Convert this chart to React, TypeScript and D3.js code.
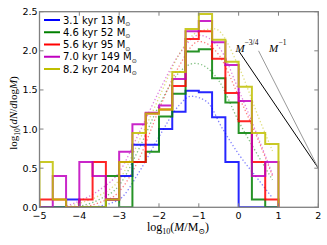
import React from "react";
import * as d3 from "d3";

// bin edges in log10(M/Msun), width 1/3 dex
const binEdges = [-5, -4.667, -4.333, -4, -3.667, -3.333, -3, -2.667, -2.333, -2, -1.667, -1.333, -1, -0.667, -0.333, 0, 0.333, 0.667, 1];

// log10(dN/dlogM) per bin, one array per snapshot
const histBlue = [0, 0, 0.1, 0, 0, 0.1, 0.4, 0.8, 0.8, 1.0, 1.22, 1.49, 1.47, 1.15, 0.58, 0, 0, 0];
const histGreen = [0, 0, 0, 0, 0, 0.4, 0, 0.58, 0.71, 1.16, 1.45, 1.99, 2.02, 1.65, 1.34, 0.95, 0.1, 0];
const histRed = [0.1, 0.1, 0, 0.1, 0.58, 0.1, 0.58, 0.58, 1.2, 1.25, 1.55, 2.15, 2.25, 1.9, 1.46, 1.1, 0.58, 0.1];
const histMagenta = [0, 0.4, 0, 0.58, 0.4, 0.1, 0.71, 1.06, 1.21, 1.3, 1.64, 2.25, 2.38, 2.11, 1.82, 1.36, 0.4, 0.58];
const histYellow = [0.58, 0.1, 0, 0, 0, 0.1, 0.58, 0.95, 1.2, 1.25, 1.73, 2.28, 2.47, 2.14, 1.86, 1.54, 0.95, 0.81];

// dotted model curves: [logM, value]
const fitBlue = [[-3.7, 0], [-3.0, 0.1], [-2.5, 0.45], [-2.0, 0.9], [-1.5, 1.3], [-1.2, 1.42], [-0.8, 1.35], [-0.4, 1.0], [0, 0.68], [0.5, 0.35], [0.85, 0.12]];
const fitGreen = [[-4.1, 0], [-3.5, 0.1], [-3.0, 0.28], [-2.5, 0.75], [-2.0, 1.3], [-1.5, 1.72], [-1.1, 1.84], [-0.5, 1.62], [0, 1.1], [0.5, 0.65], [0.85, 0.35]];
const fitRed = [[-3.9, 0], [-3.5, 0.06], [-3.0, 0.2], [-2.5, 0.62], [-2.0, 1.25], [-1.5, 1.8], [-1.0, 2.12], [-0.5, 1.95], [0, 1.42], [0.5, 0.85], [0.85, 0.4]];
const fitMagenta = [[-4.4, 0], [-4.0, 0.08], [-3.5, 0.22], [-3.0, 0.45], [-2.5, 0.95], [-2.0, 1.48], [-1.5, 1.95], [-1.0, 2.2], [-0.5, 2.05], [0, 1.5], [0.5, 0.88], [0.85, 0.42]];
const fitYellow = [[-4.3, 0], [-4.0, 0.05], [-3.5, 0.15], [-3.0, 0.35], [-2.5, 0.85], [-2.0, 1.4], [-1.5, 1.95], [-1.0, 2.25], [-0.6, 2.28], [0, 1.8], [0.5, 1.15], [0.85, 0.72]];

const ages = ["3.1 kyr", "4.6 kyr", "5.6 kyr", "7.0 kyr", "8.2 kyr"];
const masses = ["13", "52", "95", "149", "204"];
const colors = ["#0000ff", "#008000", "#ff0000", "#bf00bf", "#bfbf00"];

// reference power laws M^-3/4 and M^-1
const slopeLineA = [[0, 2.0], [2, 0.5]];
const slopeLineB = [[0.5, 2.0], [2, 0.5]];

const xTicks = [-5, -4, -3, -2, -1, 0, 1, 2];
const yTicks = [0, 0.5, 1.0, 1.5, 2.0, 2.5];

const W = 327, H = 245;
const x = d3.scaleLinear().domain([-5, 2]).range([39.5, 318.3]);
const y = d3.scaleLinear().domain([0, 2.5]).range([207.3, 11.7]);

const serif = "'Liberation Serif', 'DejaVu Serif', serif";
const sans = "'DejaVu Sans', sans-serif";

function stepPath(vals: number[]) {
  const pts: [number, number][] = [[binEdges[0], 0]];
  vals.forEach((v, i) => pts.push([binEdges[i], v]));
  pts.push([binEdges[binEdges.length - 1], 0]);
  return d3.line<[number, number]>()
    .x(d => x(d[0]))
    .y(d => y(d[1]))
    .curve(d3.curveStepAfter)(pts) || "";
}

const smooth = d3.line<number[]>()
  .x(d => x(d[0]))
  .y(d => y(d[1]))
  .curve(d3.curveMonotoneX);
const straight = d3.line<number[]>().x(d => x(d[0])).y(d => y(d[1]));

export default function App() {
  const hists = [histBlue, histGreen, histRed, histMagenta, histYellow];
  const fits = [fitBlue, fitGreen, fitRed, fitMagenta, fitYellow];
  const [x0, x1] = x.range();
  const [y0, y1] = y.range();
  const frame = "#808080";

  return (
    <svg width={W} height={H} style={{ position: "fixed", left: 0, top: 0, background: "#fff" }}>
      <defs>
        <clipPath id="plotclip">
          <rect x={x0} y={y1} width={x1 - x0} height={y0 - y1} />
        </clipPath>
      </defs>

      <g clipPath="url(#plotclip)">
        {fits.map((f, i) => (
          <path key={"f" + i} d={smooth(f) || ""} fill="none" stroke={colors[i]}
            strokeOpacity={0.5} strokeWidth={1.3} strokeDasharray="1.3,2.2" />
        ))}
        {hists.map((h, i) => (
          <path key={"h" + i} d={stepPath(h)} fill="none" stroke={colors[i]}
            strokeOpacity={0.85} strokeWidth={2} />
        ))}
        <path d={straight(slopeLineA) || ""} stroke="#000" strokeWidth={1} fill="none" />
        <path d={straight(slopeLineB) || ""} stroke="#999" strokeWidth={1} fill="none" />
      </g>

      {/* power-law labels */}
      <text x={x(-0.08)} y={y(1.98)} fontFamily={serif} fontSize={11} fontStyle="italic">M</text>
      <text x={x(0.15)} y={y(2.07)} fontFamily={serif} fontSize={7.5}>−3/4</text>
      <text x={x(0.76)} y={y(1.98)} fontFamily={serif} fontSize={11} fontStyle="italic">M</text>
      <text x={x(1.0)} y={y(2.07)} fontFamily={serif} fontSize={7.5}>−1</text>

      {/* frame */}
      <rect x={x0} y={y1} width={x1 - x0} height={y0 - y1} fill="none" stroke={frame} strokeWidth={1.3} />
      {xTicks.map(t => (
        <g key={"xt" + t}>
          <line x1={x(t)} x2={x(t)} y1={y0} y2={y0 - 4} stroke={frame} />
          <line x1={x(t)} x2={x(t)} y1={y1} y2={y1 + 4} stroke={frame} />
          <text x={x(t)} y={y0 + 12} textAnchor="middle" fontFamily={sans} fontSize={9.5}>
            {t < 0 ? "\u2212" + Math.abs(t) : String(t)}
          </text>
        </g>
      ))}
      {yTicks.map(t => (
        <g key={"yt" + t}>
          <line x1={x0} x2={x0 + 4} y1={y(t)} y2={y(t)} stroke={frame} />
          <line x1={x1} x2={x1 - 4} y1={y(t)} y2={y(t)} stroke={frame} />
          <text x={x0 - 2} y={y(t) + 3.5} textAnchor="end" fontFamily={sans} fontSize={9.5}>
            {t.toFixed(1)}
          </text>
        </g>
      ))}

      {/* axis labels */}
      <text x={178} y={231} textAnchor="middle" fontFamily={serif} fontSize={12}>
        log<tspan fontSize={8} dy={3}>10</tspan>
        <tspan dy={-3}>(</tspan><tspan fontStyle="italic">M</tspan>/M
        <tspan fontSize={8} dy={3}>{"\u2299"}</tspan><tspan dy={-3}>)</tspan>
      </text>
      <text transform="translate(17,113) rotate(-90)" textAnchor="middle" fontFamily={serif} fontSize={11}>
        log<tspan fontSize={7.5} dy={3}>10</tspan>
        <tspan dy={-3}>(</tspan><tspan fontStyle="italic">dN</tspan>/<tspan fontStyle="italic">d</tspan>log<tspan fontStyle="italic">M</tspan>)
      </text>

      {/* legend */}
      {ages.map((a, i) => {
        const ly = 20 + i * 12.25;
        return (
          <g key={"lg" + i}>
            <line x1={44} x2={60} y1={ly} y2={ly} stroke={colors[i]} strokeWidth={2} />
            <text x={63} y={ly + 3.6} fontFamily={sans} fontSize={10}>
              {a} {masses[i]} M<tspan fontSize={6} dy={2.5}>{"\u2299"}</tspan>
            </text>
          </g>
        );
      })}
    </svg>
  );
}
